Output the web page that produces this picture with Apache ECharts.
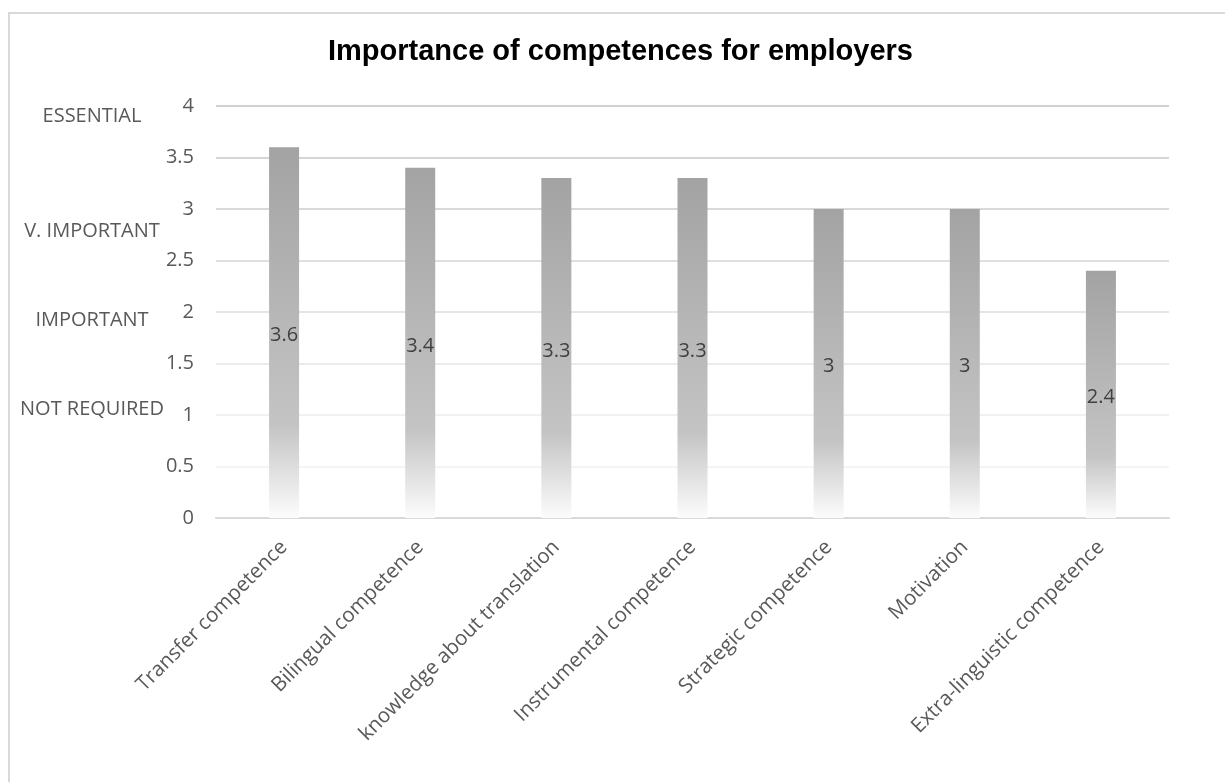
<!DOCTYPE html>
<html>
<head>
<meta charset="utf-8">
<title>Importance of competences for employers</title>
<script src="https://cdn.jsdelivr.net/npm/echarts@6/dist/echarts.min.js"></script>
<style>
  html, body { margin: 0; padding: 0; background: #ffffff; }
  #chart { width: 1225px; height: 782px; }
</style>
</head>
<body>
<div id="chart"></div>
<script>
// Competences rated by employers (0 = not required ... 4 = essential)
const categories = [
  'Transfer competence',
  'Bilingual competence',
  'knowledge about translation',
  'Instrumental competence',
  'Strategic competence',
  'Motivation',
  'Extra-linguistic competence'
];
const ratings = [3.6, 3.4, 3.3, 3.3, 3, 3, 2.4];

// Verbal scale written beside the value axis, with the value each sits at
const scaleNames = ['ESSENTIAL', 'V. IMPORTANT', 'IMPORTANT', 'NOT REQUIRED'];
const scaleLevels = [3.9, 2.78, 1.92, 1.06];

const yMin = 0, yMax = 4, yStep = 0.5;

const chart = echarts.init(document.getElementById('chart'), null, { renderer: 'canvas' });

const GRID = { left: 216, right: 56, top: 106, bottom: 264 };
const textFont = '"Open Sans", "Noto Sans", sans-serif';

// Gridlines fade from darker at the top to lighter at the bottom
const gridColors = ['#d9d9d9', '#f1f1f1', '#ececec', '#e5e5e5', '#dddddd',
                    '#d5d5d5', '#cdcdcd', '#c7c7c7', '#c0c0c0'];

function scaleGraphics() {
  return scaleNames.map((name, i) => {
    const y = chart.convertToPixel({ gridIndex: 0 }, [0, scaleLevels[i]])[1];
    return {
      type: 'text',
      x: 92,
      y: y,
      style: {
        text: name,
        fill: '#595959',
        font: '20px ' + textFont,
        textAlign: 'center',
        textVerticalAlign: 'middle'
      }
    };
  });
}

const option = {
  backgroundColor: '#ffffff',
  animation: false,
  title: {
    text: 'Importance of competences for employers',
    left: 323,
    top: 32,
    textStyle: {
      fontFamily: '"Liberation Sans", Arial, sans-serif',
      fontWeight: 'bold',
      fontSize: 29,
      color: '#000000'
    }
  },
  grid: GRID,
  xAxis: {
    type: 'category',
    data: categories,
    axisLine: { show: true, lineStyle: { color: '#d9d9d9', width: 2 } },
    axisTick: { show: false },
    axisLabel: {
      interval: 0,
      rotate: 45,
      margin: 26,
      color: '#595959',
      fontSize: 20.5,
      fontFamily: textFont
    },
    splitLine: { show: false }
  },
  yAxis: {
    type: 'value',
    min: yMin,
    max: yMax,
    interval: yStep,
    axisLine: { show: false },
    axisTick: { show: false },
    axisLabel: {
      margin: 22,
      color: '#595959',
      fontSize: 20,
      fontFamily: textFont
    },
    splitLine: { show: true, lineStyle: { color: gridColors, width: 1.5 } }
  },
  series: [{
    type: 'bar',
    data: ratings,
    barWidth: 30,
    itemStyle: {
      color: new echarts.graphic.LinearGradient(0, 0, 0, 1, [
        { offset: 0, color: '#a3a3a3' },
        { offset: 0.75, color: '#c4c4c4' },
        { offset: 1, color: '#fcfcfc' }
      ])
    },
    label: {
      show: true,
      position: 'inside',
      offset: [0, 3],
      color: '#404040',
      fontSize: 20,
      fontFamily: textFont
    }
  }],
  graphic: [{
    type: 'rect',
    silent: true,
    shape: { x: 9, y: 13, width: 1240, height: 800 },
    style: { fill: 'none', stroke: '#d9d9d9', lineWidth: 2 }
  }]
};

chart.setOption(option);
chart.setOption({ graphic: [option.graphic[0]].concat(scaleGraphics()) });
</script>
</body>
</html>
